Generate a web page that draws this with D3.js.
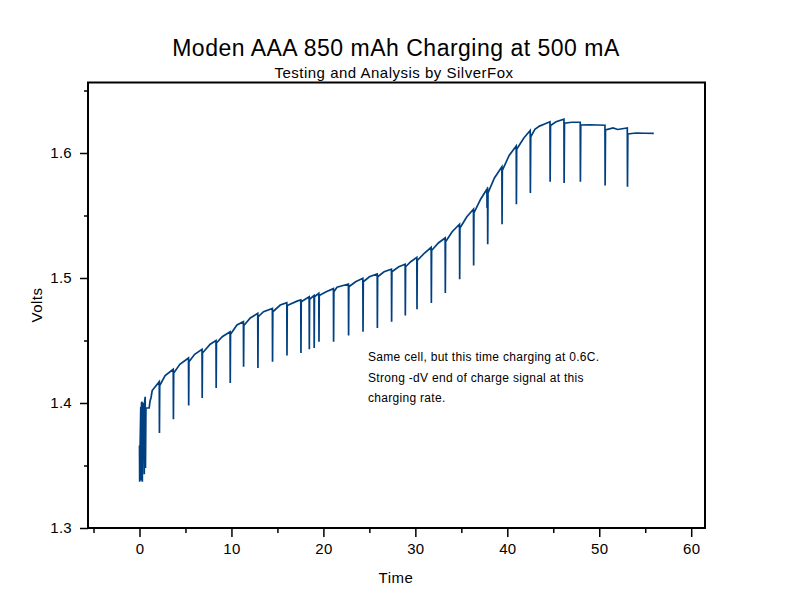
<!DOCTYPE html>
<html lang="en">
<head>
    <meta charset="UTF-8">
    <title>Moden AAA 850 mAh Charging at 500 mA</title>
    <script src="https://d3js.org/d3.v7.min.js"></script>
    <style>
        body { margin: 0; background: #fff; }
        svg { display: block; font-family: "Liberation Sans", Arial, sans-serif; }
        .axis text { font-size: 15px; letter-spacing: 0.3px; fill: #000; }
        .axis line { stroke: #000; stroke-width: 1.5px; }
        .curve { fill: none; stroke: #004080; stroke-width: 1.7px; }
    </style>
</head>
<body>
    <svg width="792" height="611"></svg>
    <script>
        // Charge curve: time (hours-ish) and cell voltage.
        // The sharp drops are the charger's periodic rest/measure pauses.
        const time = [
            0.00, 0.02, 0.06, 0.14, 0.18, 0.22, 0.28, 0.31, 0.36, 0.48, 0.52, 0.56, 0.62, 0.65, 0.70,
            1.05, 1.16, 1.25, 1.38, 1.71, 2.15, 2.17, 2.20, 2.79, 3.67, 3.69, 3.72, 4.39,
            5.33, 5.35, 5.38, 6.00, 6.80, 6.82, 6.85, 7.69, 8.32, 8.34, 8.37, 9.00,
            9.85, 9.87, 9.90, 10.6, 11.30, 11.32, 11.35, 12.05, 12.86, 12.88, 12.91, 13.49,
            14.45, 14.47, 14.50, 15.31, 16.02, 16.04, 16.07, 17.13, 17.54, 17.56, 17.59,
            18.45, 18.47, 18.50, 18.98, 19.00, 19.03, 19.50, 19.52, 19.55, 20.3,
            21.09, 21.11, 21.14, 21.48, 22.72, 22.74, 22.77, 23.5, 24.29, 24.31, 24.34, 25.0,
            25.85, 25.87, 25.90, 26.6, 27.40, 27.42, 27.45, 28.2, 28.89, 28.91, 28.94, 29.5,
            30.16, 30.18, 30.21, 31.0, 31.72, 31.74, 31.77, 32.5, 33.24, 33.26, 33.29, 34.0,
            34.80, 34.82, 34.85, 35.6, 36.32, 36.34, 36.37, 37.1, 37.78, 37.80, 37.82, 37.85, 37.87, 37.90,
            38.6, 39.41, 39.43, 39.46, 40.2, 40.97, 40.99, 41.02, 41.8, 42.49, 42.51, 42.55,
            43.0, 43.5, 44.0, 44.64, 44.66, 44.70, 45.3, 46.16, 46.18, 46.22, 47.0,
            47.93, 47.95, 47.99, 49.0, 50.62, 50.64, 50.68, 51.5, 52.0, 53.05, 53.07, 53.11,
            54.0, 55.0, 55.93
        ];
        const volts = [
            1.366, 1.337, 1.362, 1.397, 1.338, 1.400, 1.401, 1.337, 1.396, 1.400, 1.343, 1.401, 1.405, 1.348, 1.396,
            1.396, 1.402, 1.404, 1.410, 1.413, 1.417, 1.376, 1.414, 1.422, 1.427, 1.387, 1.424, 1.431,
            1.436, 1.398, 1.433, 1.439, 1.443, 1.404, 1.440, 1.447, 1.450, 1.412, 1.448, 1.453,
            1.457, 1.416, 1.455, 1.4624, 1.465, 1.429, 1.462, 1.468, 1.4717, 1.428, 1.469, 1.473,
            1.4757, 1.433, 1.473, 1.4784, 1.4802, 1.438, 1.478, 1.4815, 1.4825, 1.440, 1.481,
            1.4850, 1.443, 1.483, 1.4860, 1.444, 1.485, 1.4878, 1.449, 1.486, 1.489,
            1.4915, 1.449, 1.489, 1.4926, 1.4952, 1.454, 1.493, 1.497, 1.4998, 1.457, 1.497, 1.501,
            1.5032, 1.460, 1.501, 1.505, 1.507, 1.465, 1.505, 1.509, 1.511, 1.470, 1.509, 1.513,
            1.5165, 1.475, 1.514, 1.520, 1.5246, 1.480, 1.522, 1.528, 1.532, 1.488, 1.529, 1.537,
            1.543, 1.499, 1.540, 1.549, 1.555, 1.510, 1.552, 1.563, 1.571, 1.556, 1.571, 1.5726, 1.527, 1.568,
            1.580, 1.589, 1.543, 1.586, 1.598, 1.6056, 1.559, 1.603, 1.612, 1.618, 1.568, 1.613,
            1.619, 1.6215, 1.623, 1.625, 1.577, 1.622, 1.625, 1.627, 1.576, 1.6238, 1.6246,
            1.6246, 1.577, 1.6224, 1.6226, 1.6222, 1.574, 1.6184, 1.620, 1.6188, 1.620, 1.573, 1.6152,
            1.616, 1.6158, 1.6157
        ];

        const xMajor = [0, 10, 20, 30, 40, 50, 60];
        const xMinor = [-5, 5, 15, 25, 35, 45, 55];
        const yMajor = [1.3, 1.4, 1.5, 1.6];
        const yMinor = [1.35, 1.45, 1.55, 1.65];

        const title = "Moden AAA 850 mAh Charging at 500 mA";
        const subtitle = "Testing and Analysis by SilverFox";
        const note = [
            "Same cell, but this time charging at 0.6C.",
            "Strong -dV  end of charge signal at this",
            "charging rate."
        ];

        const svg = d3.select("svg");
        const plotL = 88, plotR = 705, plotT = 82.5, plotB = 528;

        const x = d3.scaleLinear().domain([-5.6, 61.5]).range([plotL, plotR]);
        const y = d3.scaleLinear().domain([1.3, 1.6564]).range([plotB, plotT]);

        // titles
        svg.append("text")
            .attr("x", 396).attr("y", 56)
            .attr("text-anchor", "middle")
            .style("font-size", "23px")
            .style("letter-spacing", "0.5px")
            .text(title);
        svg.append("text")
            .attr("x", 394).attr("y", 78)
            .attr("text-anchor", "middle")
            .style("font-size", "15px")
            .style("letter-spacing", "0.5px")
            .text(subtitle);

        // axes: major with labels, minor without
        svg.append("g").attr("class", "axis")
            .attr("transform", `translate(0,${plotB})`)
            .call(d3.axisBottom(x).tickValues(xMajor).tickSize(9).tickPadding(6));
        svg.append("g").attr("class", "axis")
            .attr("transform", `translate(0,${plotB})`)
            .call(d3.axisBottom(x).tickValues(xMinor).tickSize(5).tickFormat(""));
        svg.append("g").attr("class", "axis")
            .attr("transform", `translate(${plotL},0)`)
            .call(d3.axisLeft(y).tickValues(yMajor).tickSize(8).tickPadding(8).tickFormat(d3.format(".1f")));
        svg.append("g").attr("class", "axis")
            .attr("transform", `translate(${plotL},0)`)
            .call(d3.axisLeft(y).tickValues(yMinor).tickSize(4).tickFormat(""));
        svg.selectAll(".axis .domain").remove();
        svg.selectAll(".axis").attr("font-family", null).attr("font-size", null);

        // frame
        svg.append("rect")
            .attr("x", plotL).attr("y", plotT)
            .attr("width", plotR - plotL).attr("height", plotB - plotT)
            .attr("fill", "none").attr("stroke", "#000").attr("stroke-width", 2);

        // axis titles
        svg.append("text")
            .attr("x", 396).attr("y", 583)
            .attr("text-anchor", "middle")
            .style("font-size", "15px")
            .style("letter-spacing", "0.5px")
            .text("Time");
        svg.append("text")
            .attr("transform", "translate(42,305) rotate(-90)")
            .attr("text-anchor", "middle")
            .style("font-size", "15px")
            .style("letter-spacing", "0.5px")
            .text("Volts");

        // the curve
        const pts = time.map((t, i) => [t, volts[i]]);
        const line = d3.line().x(d => x(d[0])).y(d => y(d[1]));
        svg.append("path")
            .datum(pts)
            .attr("class", "curve")
            .attr("d", line);

        // annotation
        svg.append("text")
            .attr("x", 368).attr("y", 361)
            .style("font-size", "12px")
            .style("letter-spacing", "0.3px")
            .selectAll("tspan")
            .data(note)
            .enter()
            .append("tspan")
            .attr("x", 368)
            .attr("dy", (d, i) => i === 0 ? 0 : 20.5)
            .text(d => d);
    </script>
</body>
</html>
